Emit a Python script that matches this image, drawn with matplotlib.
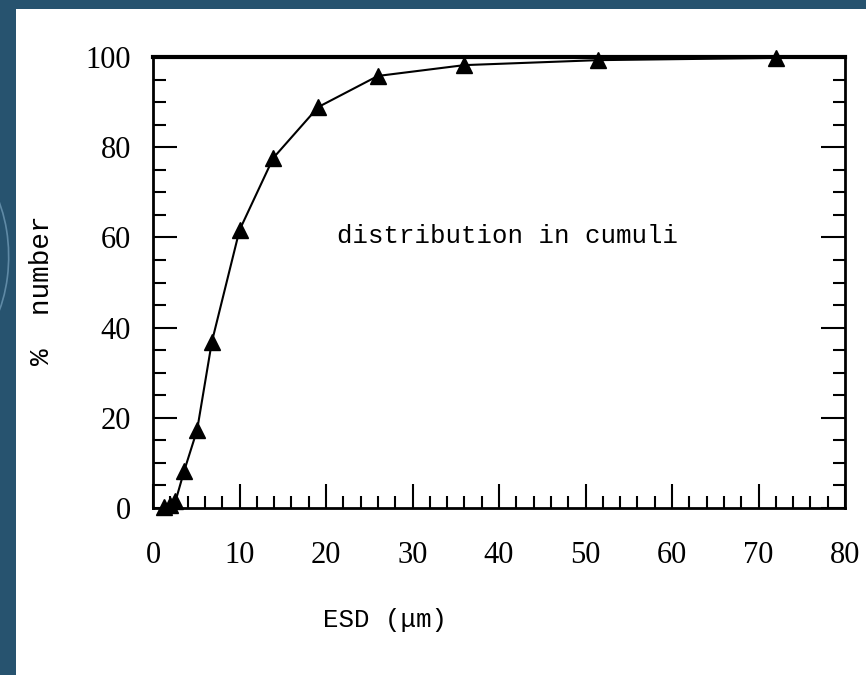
import matplotlib
matplotlib.use("Agg")
import matplotlib.pyplot as plt
from matplotlib.patches import Rectangle, Arc
from matplotlib.ticker import MultipleLocator

# Data
esd = [1.3, 2.0, 2.6, 3.6, 5.1, 6.8, 10.0, 13.9, 19.1, 26.0, 36.0, 51.4, 72.0]
pct = [0.2, 0.6, 1.5, 8.2, 17.3, 36.8, 61.6, 77.6, 88.9, 95.8, 98.2, 99.3, 99.8]
xticks = [0, 10, 20, 30, 40, 50, 60, 70, 80]
yticks = [0, 20, 40, 60, 80, 100]
annotation = "distribution in cumuli"
xlabel = "ESD (μm)"
ylabel = "%  number"

fig = plt.figure(figsize=(8.66, 6.75), dpi=100)
fig.patch.set_facecolor("#27536f")
fig.patches.append(Rectangle((16/866, 0), 1 - 16/866, 1 - 9/675, transform=fig.transFigure,
                             facecolor="white", edgecolor="none", zorder=-3))
fig.patches.append(Arc((-0.06, 0.62), 0.14, 0.30, theta1=-60, theta2=80, transform=fig.transFigure,
                       edgecolor="#5f8aa6", lw=1.2, zorder=-2))

ax = fig.add_axes([153/866, 1 - 508/675, (845-153)/866, (508-57)/675])
ax.set_zorder(1)
ax.patch.set_alpha(0)
ax.plot(esd, pct, color="black", lw=1.5, marker="^", ms=11, mfc="black", mec="black", clip_on=False)

ax.set_xlim(0, 80)
ax.set_ylim(0, 100)
ax.set_xticks(xticks)
ax.set_yticks(yticks)
ax.xaxis.set_minor_locator(MultipleLocator(2))
ax.yaxis.set_minor_locator(MultipleLocator(5))
ax.tick_params(axis="both", which="major", direction="in", length=17, width=1.5,
               labelsize=22, top=False, right=True)
ax.tick_params(axis="both", which="minor", direction="in", length=9, width=1.5,
               top=False, right=True)
ax.tick_params(axis="y", which="major", pad=16)
ax.tick_params(axis="x", which="major", pad=24)
for lab in ax.get_xticklabels() + ax.get_yticklabels():
    lab.set_fontfamily("Liberation Serif")

for s in ["left", "bottom", "right"]:
    ax.spines[s].set_linewidth(2)
ax.spines["top"].set_linewidth(3)

ax.text((508 - 153) / 692, (508 - 236) / 451, annotation, transform=ax.transAxes, fontsize=18.5,
        family="Liberation Mono", ha="center", va="center")
fig.text(385/866, 1 - 620/675, xlabel, fontsize=18.5, family="Liberation Mono",
         ha="center", va="center", zorder=5)
fig.text(42/866, 1 - 290/675, ylabel, rotation=90, fontsize=20, family="Liberation Mono",
         ha="center", va="center", zorder=5)

fig.savefig("out.png", dpi=100, facecolor=fig.get_facecolor())
